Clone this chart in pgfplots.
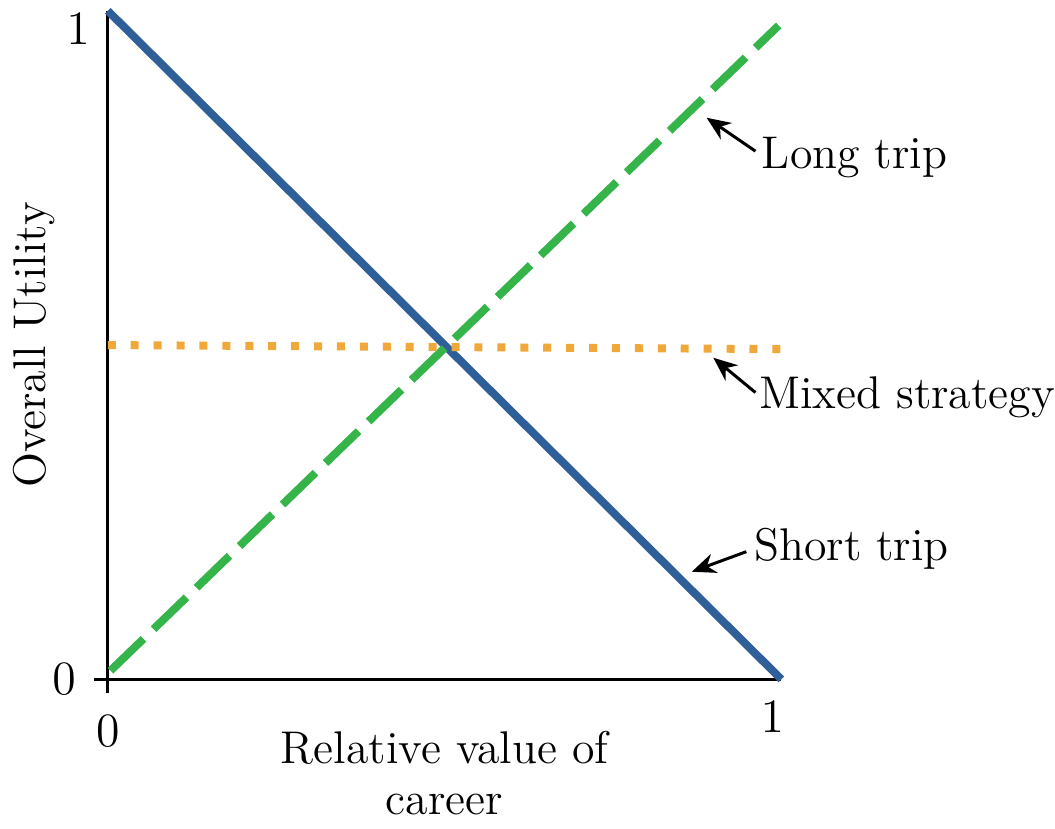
\documentclass[border=0pt]{standalone}
\usepackage{pgfplots}
\pgfplotsset{compat=1.18}
\usetikzlibrary{arrows.meta}

\definecolor{shortblue}{RGB}{46,95,153}
\definecolor{longgreen}{RGB}{53,180,74}
\definecolor{mixorange}{RGB}{240,168,58}

\begin{document}
\begin{tikzpicture}[font=\fontsize{11.5}{14}\selectfont]
\begin{axis}[
    scale only axis,
    width=169pt, height=167.75pt,
    xmin=0, xmax=1, ymin=0, ymax=1,
    axis x line=bottom, axis y line=left,
    axis line style={-, line width=0.75pt},
    xtick={0}, ytick={0},
    extra x ticks={1}, extra y ticks={1},
    extra x tick style={major tick length=0pt, xticklabel style={xshift=-2.25pt}},
    extra y tick style={major tick length=0pt, yticklabel style={yshift=-4.5pt}},
    tick align=outside,
    major tick length=3.5pt,
    tick style={black, line width=0.75pt},
    xticklabel style={yshift=-2pt},
    yticklabel style={xshift=-1pt},
    xlabel={Relative value of\\career},
    xlabel style={align=center, yshift=14pt, font=\fontsize{11.5}{12.8}\selectfont},
    ylabel={Overall Utility},
    ylabel style={yshift=-11pt},
    clip=false,
]
% short trip
\addplot[shortblue, line width=2pt] coordinates {(0,1) (1,0)};
% long trip
\addplot[longgreen, line width=2pt, dash pattern=on 11.5pt off 3.5pt] coordinates {(0.004,0.013) (0.996,0.978)};
% mixed strategy
\addplot[mixorange, line width=2pt, dash pattern=on 2pt off 3.75pt] coordinates {(0,0.500) (1,0.494)};

\draw[-{Stealth[length=6pt,width=5pt]}, line width=0.75pt] (axis cs:0.9615,0.790) -- (axis cs:0.889,0.840);
\node[anchor=west, inner sep=0pt] at (axis cs:0.970,0.780) {Long trip};
\draw[-{Stealth[length=6pt,width=5pt]}, line width=0.75pt] (axis cs:0.9615,0.429) -- (axis cs:0.899,0.481);
\node[anchor=west, inner sep=0pt] at (axis cs:0.966,0.422) {Mixed strategy};
\draw[-{Stealth[length=6pt,width=5pt]}, line width=0.75pt] (axis cs:0.948,0.191) -- (axis cs:0.867,0.161);
\node[anchor=west, inner sep=0pt] at (axis cs:0.9586,0.195) {Short trip};
\end{axis}
\end{tikzpicture}
\end{document}
